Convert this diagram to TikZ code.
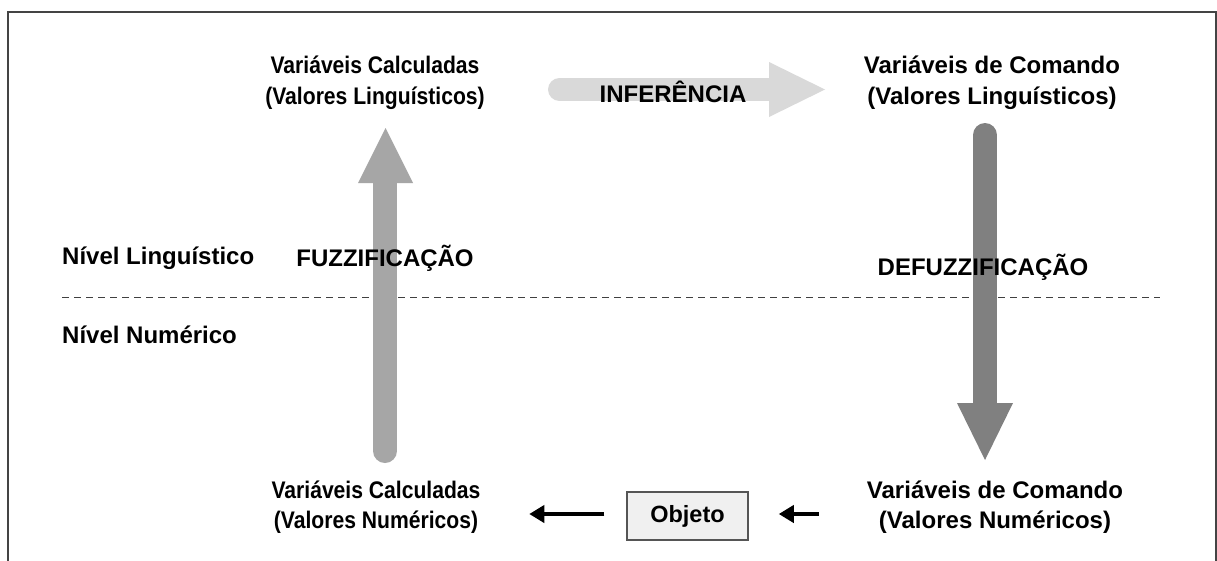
\documentclass[tikz,border=0pt]{standalone}
\usepackage{fontspec}
\setmainfont{Liberation Sans}
\usetikzlibrary{arrows.meta}
\definecolor{framecol}{HTML}{444444}
\definecolor{infcol}{HTML}{D9D9D9}
\definecolor{fuzcol}{HTML}{A6A6A6}
\definecolor{defcol}{HTML}{808080}
\definecolor{objfill}{HTML}{F0F0F0}
\definecolor{objdraw}{HTML}{555555}
\tikzset{
  lblb/.style={font=\fontsize{24}{30.5}\selectfont\bfseries, align=center, inner sep=0pt},
  lbl/.style={lblb, xscale=0.88},
  objbox/.style={draw=objdraw, fill=objfill, line width=1.5pt, minimum width=121pt, minimum height=48pt, inner sep=0pt, font=\fontsize{23.5}{30.5}\selectfont\bfseries},
  blk/.style={line width=4pt, -{Triangle[length=15pt,width=17pt]}},
  dline/.style={line width=1pt, color=black!75, dash pattern=on 7pt off 5pt},
}
\begin{document}
\begin{tikzpicture}[x=1pt,y=-1pt]
\useasboundingbox (0,0) rectangle (1217,560);
\fill[white] (0,0) rectangle (1217,560);
% frame
\draw[framecol, line width=2pt] (8,600) -- (8,12) -- (1216,12) -- (1216,600);
% dashed level separator
\draw[dline] (62,297) -- (1160,297);
% big arrows
\draw[infcol, line width=23pt, line cap=round] (559.5,89.5) -- (770,89.5);
\fill[infcol] (769,62) -- (825,89.5) -- (769,117) -- cycle;
\draw[fuzcol, line width=24pt, line cap=round] (385,451) -- (385,184);
\fill[fuzcol] (358,183) -- (385.5,128) -- (413,183) -- cycle;
\draw[defcol, line width=24pt, line cap=round] (985,135) -- (985,404);
\fill[defcol] (957,403) -- (985,460) -- (1013,403) -- cycle;
% nodes
\node[lbl] (tlc) at (375,82.5) {Variáveis Calculadas\\(Valores Linguísticos)};
\node[lblb] (trc) at (992,82.5) {Variáveis de Comando\\(Valores Linguísticos)};
\node[lbl] (blc) at (376,507) {Variáveis Calculadas\\(Valores Numéricos)};
\node[lblb] (brc) at (995,507) {Variáveis de Comando\\(Valores Numéricos)};
\node[lblb] (inf) at (673,92) {INFERÊNCIA};
\node[lblb] (fuz) at (385,258) {FUZZIFICAÇÃO};
\node[lblb] (def) at (983,267) {DEFUZZIFICAÇÃO};
\node[lblb, anchor=west] (nlin) at (62,258) {Nível Linguístico};
\node[lblb, anchor=west] (nnum) at (62,335) {Nível Numérico};
\node[objbox] (obj) at (687.5,516) {Objeto};
% small arrows
\draw[blk] (obj.west) ++(-22,-2) -- ++(-75,0);
\draw[blk] (obj.east) ++(70,-2) -- ++(-40,0);
\end{tikzpicture}
\end{document}
